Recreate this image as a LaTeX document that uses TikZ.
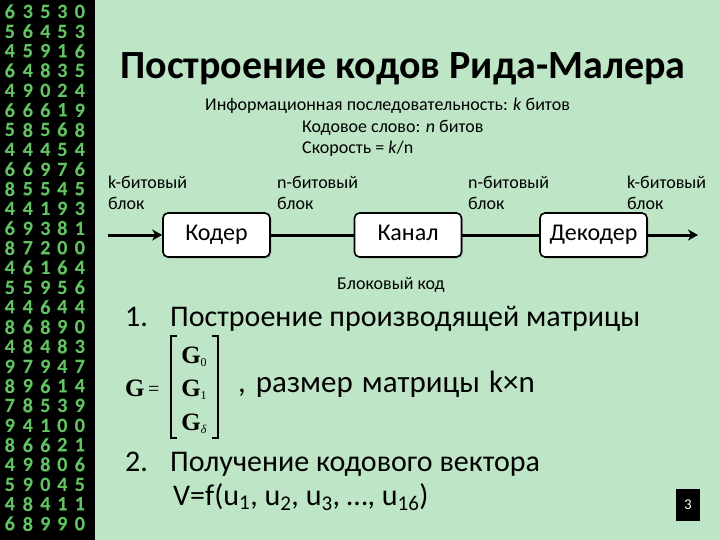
\documentclass[tikz,border=0pt]{standalone}
\usepackage{fontspec}
\setmainfont{Carlito}
\newfontfamily\serifG{Liberation Serif}
\usetikzlibrary{arrows.meta,shadows}
\definecolor{bgc}{RGB}{190,229,197}
\definecolor{digc}{RGB}{100,195,100}
\definecolor{digglow}{RGB}{40,110,40}
\tikzset{
  lbl/.style={anchor=base west,inner sep=0pt,font=\fontsize{18}{18}\selectfont},
  blk/.style={draw=black,line width=1.6pt,fill=white,rounded corners=5pt,minimum width=107pt,minimum height=44pt,inner sep=0pt,text height=16pt,text depth=5pt,font=\fontsize{24}{24}\selectfont,drop shadow={shadow xshift=1.5pt,shadow yshift=-1.5pt,opacity=0.35}},
  item/.style={anchor=base west,inner sep=0pt,font=\fontsize{30}{30}\selectfont},
  dig/.style={text=digc,font=\fontsize{20}{20}\bfseries\selectfont,inner sep=0pt},
  glow/.style={text=digglow,font=\fontsize{21}{21}\bfseries\selectfont,inner sep=0pt,opacity=0.8},
  conn/.style={line width=3pt},
  gmat/.style={anchor=base,inner sep=0pt,font=\fontsize{25}{25}\serifG\bfseries}
}
\begin{document}
\begin{tikzpicture}[x=1pt,y=-1pt]
\fill[bgc] (0,0) rectangle (720,540);
\useasboundingbox (0,0) rectangle (720,540);
\fill[black] (0,0) rectangle (94.5,540);
\foreach \a/\b/\c/\d/\e [count=\i from 0] in {6/3/5/3/0,5/6/4/5/3,4/5/9/1/6,6/4/8/3/5,4/9/0/2/4,6/6/6/1/9,5/8/5/6/8,4/4/4/5/4,6/6/9/7/6,8/5/5/4/5,4/4/1/9/3,6/9/3/8/1,8/7/2/0/0,4/6/1/6/4,5/5/9/5/6,4/4/6/4/4,8/6/8/9/0,4/8/4/8/3,9/7/9/4/7,8/9/6/1/4,7/8/5/3/9,9/4/1/0/0,8/6/6/2/1,4/9/8/0/6,5/9/0/4/5,4/8/4/1/1,6/8/9/9/0}{
  \foreach \v/\xx/\k in {\a/10/a,\b/28/b,\c/45.5/c,\d/62.5/d,\e/80/e}{
    \node[glow] (g\i\k) at (\xx,12+19.7*\i) {\v};
    \node[dig] (d\i\k) at (\xx,12+19.7*\i) {\v};
  }
}
% title
\node[anchor=base,inner sep=0pt,font=\fontsize{40}{40}\bfseries\selectfont] (title) at (403,79) {Построение кодов Рида-Малера};
% info lines
\node[lbl] (info1) at (205,111) {Информационная последовательность: \textit{k} битов};
\node[lbl] (info2) at (302,133) {Кодовое слово: \textit{n} битов};
\node[lbl] (info3) at (302,154) {Скорость = \textit{k}/n};
% block labels
\node[lbl] (l1a) at (108,189) {k-битовый};
\node[lbl] (l1b) at (108,210) {блок};
\node[lbl] (l2a) at (277,189) {n-битовый};
\node[lbl] (l2b) at (277,210) {блок};
\node[lbl] (l3a) at (468,189) {n-битовый};
\node[lbl] (l3b) at (468,210) {блок};
\node[lbl] (l4a) at (627,189) {k-битовый};
\node[lbl] (l4b) at (627,210) {блок};
% boxes
\node[blk] (coder) at (216.5,235) {Кодер};
\node[blk] (chan) at (408,235) {Канал};
\node[blk] (dec) at (593.5,235) {Декодер};
\coordinate (in) at (108,235);
\coordinate (out) at (698,235);
\draw[conn,-{Stealth[length=10pt,width=11pt,inset=3pt]}] (in) -- (coder.west);
\draw[conn] (coder.east) -- (chan.west);
\draw[conn] (chan.east) -- (dec.west);
\draw[conn,-{Stealth[length=10pt,width=11pt,inset=3pt]}] (dec.east) -- (out);
\node[lbl] (bk) at (337,289) {Блоковый код};
% list items
\node[item] (n1) at (125,326) {1.};
\node[item] (t1) at (170,326) {Построение производящей матрицы};
\node[item] (n2) at (125,471) {2.};
\node[item] (t2) at (170,471) {Получение кодового вектора};
\node[item] (t3) at (173,505) {V=f(u\textsubscript{1}, u\textsubscript{2}, u\textsubscript{3}, …, u\textsubscript{16})};
% matrix
\node[gmat,anchor=base west] (G) at (125,396) {G};
\node[gmat,anchor=base west,font=\fontsize{20}{20}\serifG] (eq) at (148,395) {=};
\node[gmat] (G0) at (194,363) {G\raisebox{-3pt}{\fontsize{12}{12}\mdseries 0}};
\node[gmat] (G1) at (194,396) {G\raisebox{-3pt}{\fontsize{12}{12}\mdseries 1}};
\node[gmat] (Gd) at (194,430) {G\raisebox{-3pt}{\fontsize{12}{12}\mdseries\itshape δ}};
\coordinate (bl1) at (177,336);
\coordinate (bl2) at (171,336);
\coordinate (bl3) at (171,438);
\coordinate (bl4) at (177,438);
\coordinate (br1) at (212,336);
\coordinate (br2) at (218,336);
\coordinate (br3) at (218,438);
\coordinate (br4) at (212,438);
\draw[line width=1.2pt] (bl1) -- (bl2) -- (bl3) -- (bl4);
\draw[line width=1.2pt] (br1) -- (br2) -- (br3) -- (br4);
\node[item,font=\fontsize{31}{31}\selectfont] (size) at (238,392) {,\hspace{3pt} размер\hspace{2pt} матрицы\hspace{2pt} k×n};
% page number
\node[fill=black,text=white,minimum width=24pt,minimum height=32pt,inner sep=0pt,font=\fontsize{15}{15}\selectfont] (pg) at (688,505) {3};
\end{tikzpicture}
\end{document}
